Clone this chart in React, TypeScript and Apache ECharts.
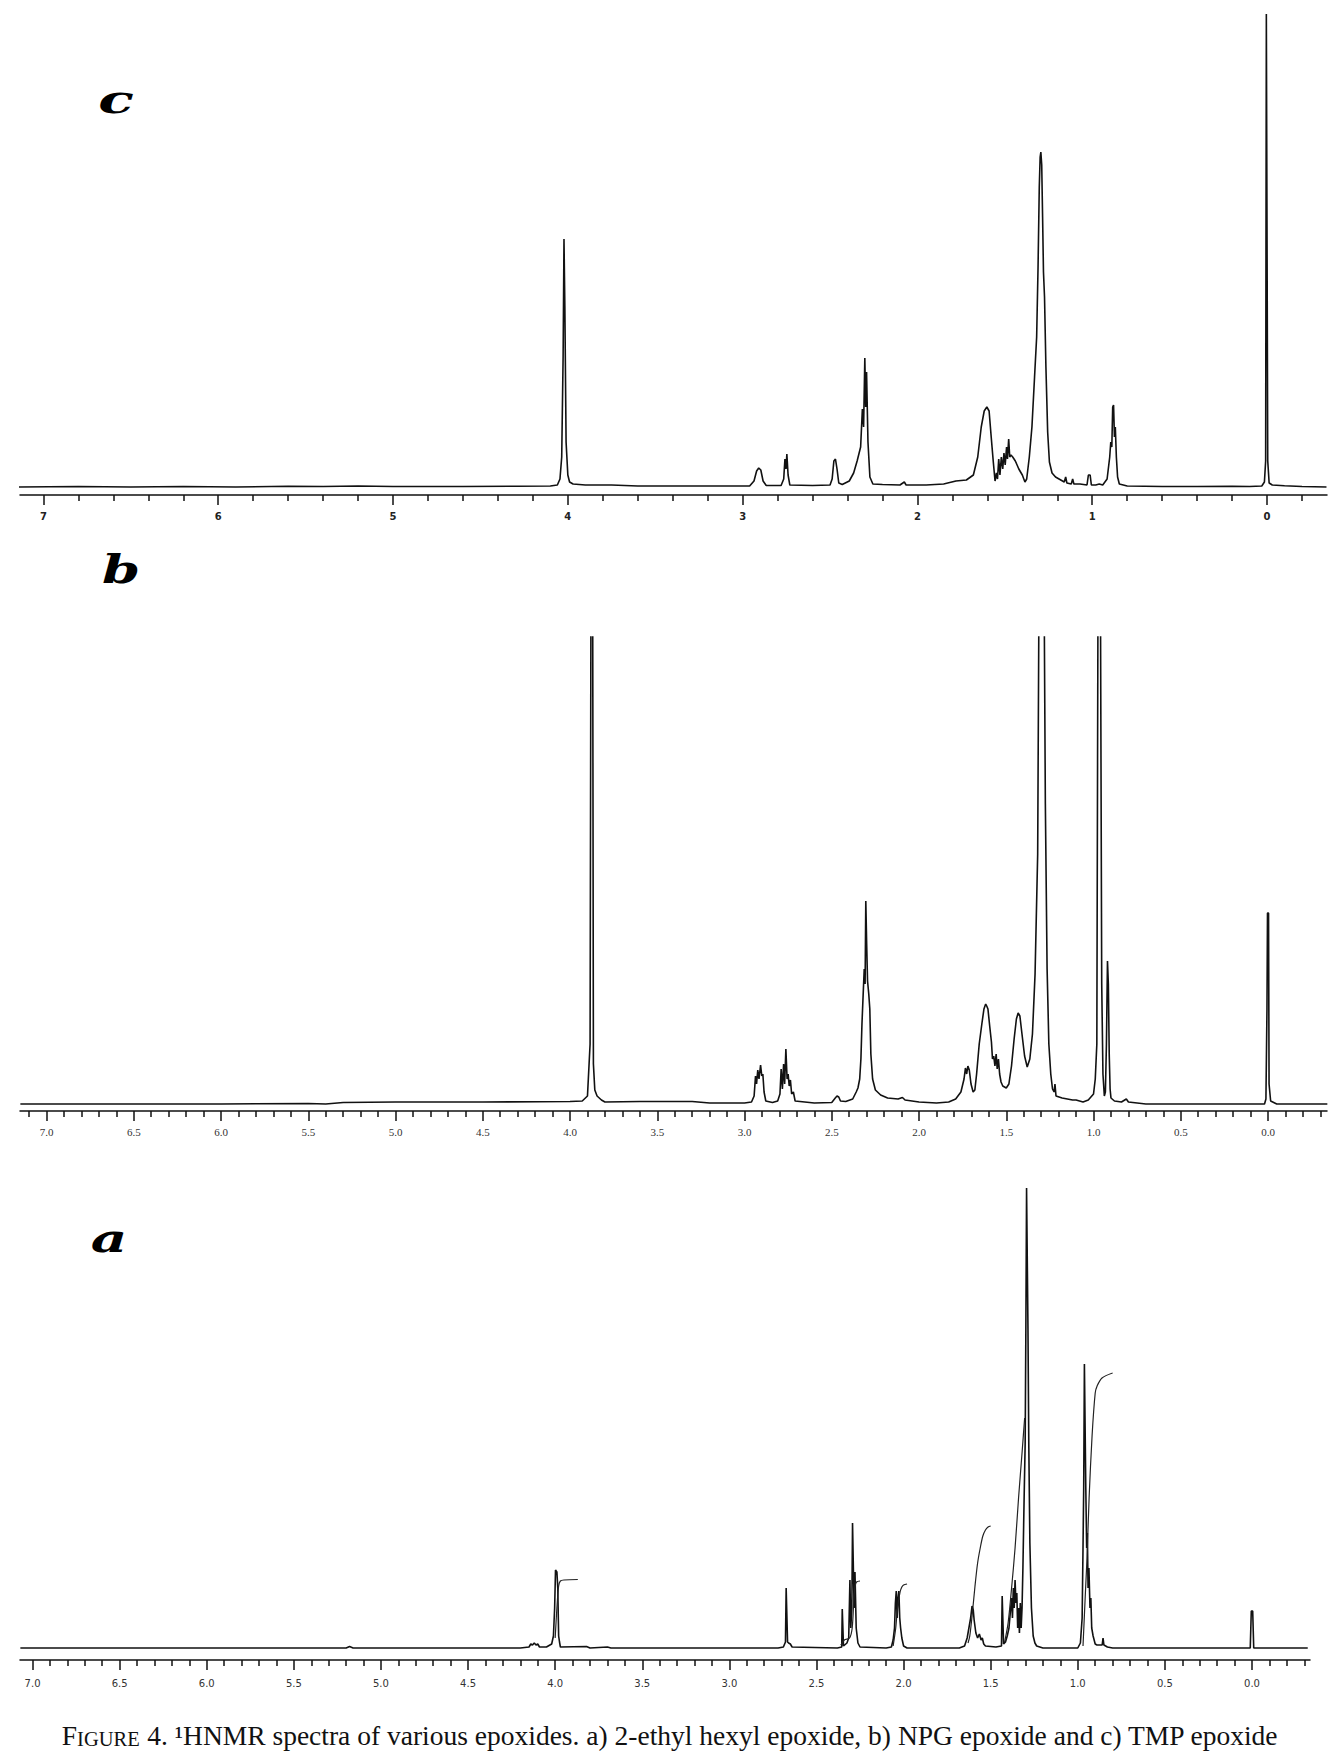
import React, { useEffect, useRef } from "react";
import * as echarts from "echarts";

// ---------- Data: [chemical shift (ppm), signal height] ----------
// c) TMP epoxide
const SPECTRUM_C: [number, number][] = [
  [7.14, 0], [6.8, 0.5], [6.5, 0], [6.2, 0.5], [5.9, 0], [5.6, 0.8], [5.4, 0.5], [5.2, 1], [5.0, 0.5], [4.6, 0.5],
  [4.3, 0.8], [4.1, 1], [4.06, 2], [4.045, 8], [4.035, 30], [4.027, 130], [4.022, 248], [4.017, 180], [4.01, 45],
  [4.0, 12], [3.99, 5], [3.97, 3], [3.9, 2], [3.75, 2], [3.6, 1], [3.3, 1], [3.0, 1], [2.96, 1], [2.935, 6],
  [2.92, 16], [2.908, 19], [2.896, 17], [2.883, 6], [2.865, 1.5], [2.78, 1.5], [2.765, 8], [2.758, 28], [2.752, 18],
  [2.747, 33], [2.74, 12], [2.73, 2], [2.6, 1.5], [2.5, 2], [2.488, 8], [2.478, 26], [2.469, 28], [2.46, 18],
  [2.45, 4], [2.43, 2.5], [2.39, 6], [2.365, 14], [2.345, 26], [2.325, 40], [2.315, 78], [2.308, 60], [2.301, 129],
  [2.296, 80], [2.291, 115], [2.283, 45], [2.272, 10], [2.255, 3], [2.2, 2.5], [2.1, 2], [2.075, 5], [2.065, 2],
  [1.95, 2], [1.85, 3], [1.78, 6], [1.72, 7], [1.68, 12], [1.655, 30], [1.635, 60], [1.618, 76], [1.603, 80],
  [1.59, 76], [1.578, 50], [1.566, 25], [1.556, 6], [1.548, 14], [1.542, 8], [1.535, 28], [1.528, 12], [1.52, 30],
  [1.512, 18], [1.505, 34], [1.498, 22], [1.49, 40], [1.485, 28], [1.478, 48], [1.472, 30], [1.465, 32],
  [1.455, 30], [1.44, 26], [1.42, 18], [1.4, 12], [1.385, 5], [1.375, 8], [1.36, 30], [1.345, 60], [1.33, 110],
  [1.318, 150], [1.31, 220], [1.303, 300], [1.298, 330], [1.294, 335], [1.289, 322], [1.284, 270], [1.279, 215],
  [1.273, 190], [1.265, 120], [1.255, 55], [1.245, 25], [1.23, 14], [1.21, 10], [1.19, 8], [1.16, 5], [1.152, 10],
  [1.145, 4], [1.12, 3], [1.112, 8], [1.105, 3], [1.07, 3], [1.03, 2], [1.022, 12], [1.012, 12], [1.005, 2],
  [0.98, 2], [0.96, 3], [0.94, 2], [0.915, 8], [0.9, 30], [0.894, 45], [0.888, 40], [0.883, 80], [0.878, 82],
  [0.873, 50], [0.868, 60], [0.862, 30], [0.855, 10], [0.845, 3], [0.8, 1], [0.6, 0.5], [0.4, 0.5], [0.2, 0.8],
  [0.1, 0.5], [0.03, 1], [0.015, 5], [0.008, 26], [0.004, 473], [0.0, 473], [-0.004, 26], [-0.012, 4],
  [-0.03, 2], [-0.1, 1.2], [-0.2, 0.5], [-0.34, 0],
];

// b) NPG epoxide (tallest lines run off the top of the frame)
const SPECTRUM_B: [number, number][] = [
  [7.15, 0], [6.5, 0], [6.0, 0], [5.5, 0.5], [5.4, 0], [5.3, 1.5], [5.0, 2], [4.5, 2], [4.0, 2.5], [3.93, 3],
  [3.9, 8], [3.885, 60], [3.879, 600], [3.871, 600], [3.866, 40], [3.858, 14], [3.845, 8], [3.82, 4], [3.8, 2],
  [3.6, 2.5], [3.3, 2.5], [3.2, 1], [3.0, 1], [2.96, 2], [2.945, 8], [2.937, 28], [2.931, 20], [2.924, 34],
  [2.917, 25], [2.908, 39], [2.901, 28], [2.895, 30], [2.888, 12], [2.878, 3], [2.84, 1.5], [2.81, 3], [2.797, 10],
  [2.79, 35], [2.783, 15], [2.776, 40], [2.77, 20], [2.763, 55], [2.756, 25], [2.75, 30], [2.744, 18],
  [2.737, 24], [2.73, 10], [2.72, 12], [2.71, 3], [2.6, 1], [2.5, 1.5], [2.48, 6], [2.47, 8], [2.46, 7],
  [2.45, 3], [2.42, 2.5], [2.38, 5], [2.36, 12], [2.35, 16], [2.34, 25], [2.333, 45], [2.327, 80], [2.32, 110],
  [2.314, 135], [2.309, 120], [2.305, 203], [2.3, 160], [2.295, 123], [2.288, 110], [2.282, 95], [2.276, 50],
  [2.266, 25], [2.25, 14], [2.22, 9], [2.18, 6], [2.12, 5], [2.095, 6.5], [2.08, 4], [2.04, 3], [2.0, 2],
  [1.9, 1], [1.83, 2], [1.79, 5], [1.76, 12], [1.742, 25], [1.734, 36], [1.727, 30], [1.72, 38], [1.712, 34],
  [1.702, 20], [1.69, 12], [1.68, 14], [1.67, 30], [1.655, 60], [1.64, 80], [1.628, 95], [1.618, 100],
  [1.612, 98], [1.605, 95], [1.595, 78], [1.585, 62], [1.579, 45], [1.572, 48], [1.565, 38], [1.558, 50],
  [1.552, 35], [1.545, 45], [1.538, 30], [1.53, 22], [1.52, 18], [1.5, 16], [1.485, 20], [1.47, 38],
  [1.455, 65], [1.442, 85], [1.432, 91], [1.422, 88], [1.41, 70], [1.395, 48], [1.38, 37], [1.365, 45],
  [1.35, 70], [1.335, 130], [1.32, 250], [1.31, 600], [1.297, 600], [1.286, 600], [1.276, 300], [1.266, 135],
  [1.256, 60], [1.245, 30], [1.235, 15], [1.226, 12], [1.221, 20], [1.215, 8], [1.18, 6], [1.12, 4], [1.1, 4],
  [1.06, 2], [1.03, 4], [1.0, 10], [0.99, 25], [0.981, 60], [0.973, 600], [0.962, 600], [0.953, 120],
  [0.946, 30], [0.938, 8], [0.932, 12], [0.926, 60], [0.92, 143], [0.915, 120], [0.91, 50], [0.905, 15],
  [0.9, 6], [0.88, 3], [0.84, 2], [0.812, 5], [0.8, 2], [0.7, 0], [0.5, 0], [0.1, 0], [0.02, 0], [0.012, 5],
  [0.006, 95], [0.003, 191], [-0.003, 191], [-0.006, 20], [-0.015, 3], [-0.05, 0], [-0.34, 0],
];

// a) 2-ethyl hexyl epoxide
const SPECTRUM_A: [number, number][] = [
  [7.07, 0], [5.2, 0], [5.18, 1.5], [5.16, 0], [4.2, 0], [4.15, 1], [4.14, 4], [4.13, 3], [4.12, 5], [4.11, 3],
  [4.1, 4], [4.09, 1], [4.05, 1], [4.02, 4], [4.01, 12], [4.003, 40], [3.998, 78], [3.99, 76], [3.985, 60],
  [3.98, 12], [3.975, 6], [3.97, 1], [3.82, 1.5], [3.8, 0], [3.7, 1], [3.68, 0], [2.72, 0], [2.69, 1],
  [2.678, 6], [2.674, 60], [2.67, 60], [2.666, 6], [2.66, 5], [2.65, 4], [2.64, 1], [2.38, 0], [2.355, 1],
  [2.352, 39], [2.348, 39], [2.345, 2], [2.325, 5], [2.315, 10], [2.308, 68], [2.303, 20], [2.297, 40],
  [2.293, 125], [2.289, 125], [2.284, 40], [2.279, 76], [2.272, 20], [2.262, 5], [2.25, 1], [2.1, 0],
  [2.07, 1], [2.06, 8], [2.052, 20], [2.047, 45], [2.042, 57], [2.037, 30], [2.032, 50], [2.027, 57],
  [2.022, 30], [2.017, 20], [2.01, 10], [2.0, 2], [1.98, 0], [1.68, 0], [1.65, 2], [1.635, 10], [1.625, 20],
  [1.615, 30], [1.607, 42], [1.6, 38], [1.595, 28], [1.585, 15], [1.575, 10], [1.565, 14], [1.555, 8],
  [1.548, 10], [1.54, 4], [1.53, 2], [1.47, 1], [1.438, 2], [1.434, 52], [1.43, 52], [1.426, 4], [1.415, 6],
  [1.405, 12], [1.395, 20], [1.385, 40], [1.38, 50], [1.375, 30], [1.37, 60], [1.365, 40], [1.36, 68],
  [1.355, 45], [1.35, 55], [1.345, 20], [1.34, 40], [1.335, 15], [1.33, 45], [1.325, 20], [1.32, 40],
  [1.315, 80], [1.308, 150], [1.302, 205], [1.298, 320], [1.294, 460], [1.29, 460], [1.286, 320],
  [1.281, 200], [1.275, 105], [1.266, 40], [1.256, 12], [1.246, 5], [1.236, 2], [1.2, 0], [1.0, 0],
  [0.985, 5], [0.975, 30], [0.97, 100], [0.966, 160], [0.962, 284], [0.958, 284], [0.954, 160],
  [0.949, 100], [0.945, 115], [0.941, 60], [0.936, 80], [0.93, 40], [0.925, 50], [0.92, 20], [0.912, 12],
  [0.9, 4], [0.89, 3], [0.86, 3], [0.855, 10], [0.85, 3], [0.83, 1], [0.8, 0], [0.1, 0], [0.01, 0],
  [0.004, 37], [-0.004, 37], [-0.01, 0], [-0.32, 0],
];

// a) integral traces
const INTEGRALS_A: [number, number][][] = [
  [[4.0, 10], [3.99, 40], [3.98, 62], [3.97, 67], [3.95, 68], [3.87, 68.5]],
  [[2.36, 3], [2.34, 8], [2.31, 10], [2.295, 20], [2.285, 50], [2.278, 62], [2.27, 66], [2.25, 67]],
  [[2.06, 2], [2.045, 20], [2.035, 40], [2.02, 56], [2.01, 61], [2.0, 63], [1.98, 64]],
  [[1.63, 5], [1.62, 12], [1.605, 35], [1.59, 62], [1.575, 85], [1.56, 100], [1.545, 112], [1.53, 118], [1.515, 121], [1.5, 122]],
  [[1.42, 6], [1.4, 25], [1.38, 60], [1.36, 100], [1.34, 150], [1.32, 195], [1.305, 230]],
  [[0.97, 2], [0.955, 60], [0.947, 90], [0.935, 150], [0.918, 212], [0.9, 255], [0.889, 262], [0.861, 270], [0.8, 275]],
];

// ---------- Axis ticks and labels ----------
const MAJOR_C = [0, 1, 2, 3, 4, 5, 6, 7];
const MAJOR_AB = [0, 0.5, 1, 1.5, 2, 2.5, 3, 3.5, 4, 4.5, 5, 5.5, 6, 6.5, 7];
const PANEL_LETTERS = ["c", "b", "a"];
const CAPTION_LEAD = "F";
const CAPTION_SMALLCAPS = "IGURE";
const CAPTION_REST =
  " 4. \u00B9HNMR spectra of various epoxides. a) 2-ethyl hexyl epoxide, b) NPG epoxide and c) TMP epoxide";

function minorTicks(from: number, to: number, step: number, major: number): number[] {
  const out: number[] = [];
  const n = Math.round((to - from) / step);
  for (let i = 0; i <= n; i++) {
    const v = Math.round((from + i * step) * 1000) / 1000;
    const r = v / major;
    if (Math.abs(r - Math.round(r)) > 1e-6) out.push(v);
  }
  return out;
}
const MINOR_C = minorTicks(-0.2, 7.0, 0.2, 1);
const MINOR_AB = minorTicks(-0.3, 7.1, 0.1, 0.5);

export default function App() {
  const ref = useRef<HTMLDivElement>(null);

  useEffect(() => {
    if (!ref.current) return;
    const chart = echarts.init(ref.current, undefined, { renderer: "svg" });

    const panels = [
      { left: 20, width: 1307, top: 13, height: 482, xmin: -0.343, xmax: 7.134, ymin: -8, ymax: 474,
        major: MAJOR_C, minor: MINOR_C, data: SPECTRUM_C,
        label: { fontSize: 10, fontWeight: "bold", fontFamily: "DejaVu Sans", color: "#222", margin: 16 },
        fmt: (v: number) => String(Math.round(v)) },
      { left: 20, width: 1307, top: 637, height: 474, xmin: -0.338, xmax: 7.152, ymin: -7, ymax: 467,
        major: MAJOR_AB, minor: MINOR_AB, data: SPECTRUM_B,
        label: { fontSize: 11, fontWeight: "normal", fontFamily: "Liberation Serif", color: "#333", margin: 15 },
        fmt: (v: number) => v.toFixed(1) },
      { left: 20, width: 1290, top: 1188, height: 472, xmin: -0.333, xmax: 7.072, ymin: -12, ymax: 460,
        major: MAJOR_AB, minor: MINOR_AB, data: SPECTRUM_A,
        label: { fontSize: 10, fontWeight: "normal", fontFamily: "DejaVu Sans", color: "#333", margin: 18 },
        fmt: (v: number) => v.toFixed(1) },
    ];

    const grid: any[] = [];
    const xAxis: any[] = [];
    const yAxis: any[] = [];
    const series: any[] = [];

    panels.forEach((p, i) => {
      grid.push({ left: p.left, width: p.width, top: p.top, height: p.height, containLabel: false });
      xAxis.push({
        type: "value", gridIndex: i, position: "bottom", min: p.xmin, max: p.xmax, inverse: true,
        axisLine: { show: true, onZero: false, lineStyle: { color: "#111", width: 1.5 } },
        axisTick: { show: true, length: 10, customValues: p.major, lineStyle: { color: "#111", width: 1.5 } },
        axisLabel: { show: true, customValues: p.major, formatter: p.fmt, ...p.label },
        splitLine: { show: false },
      });
      xAxis.push({
        type: "value", gridIndex: i, position: "bottom", min: p.xmin, max: p.xmax, inverse: true,
        axisLine: { show: false, onZero: false },
        axisTick: { show: true, length: 6, customValues: p.minor, lineStyle: { color: "#111", width: 1.5 } },
        axisLabel: { show: false },
        splitLine: { show: false },
      });
      yAxis.push({ type: "value", gridIndex: i, min: p.ymin, max: p.ymax, show: false, splitLine: { show: false } });
      series.push({
        type: "line", xAxisIndex: i * 2, yAxisIndex: i, data: p.data, symbol: "none", showSymbol: false,
        clip: true, silent: true, lineStyle: { color: "#111", width: 1.6 },
      });
    });

    INTEGRALS_A.forEach((d) => {
      series.push({
        type: "line", xAxisIndex: 4, yAxisIndex: 2, data: d, symbol: "none", showSymbol: false, smooth: 0.3,
        clip: true, silent: true, lineStyle: { color: "#222", width: 1.2 },
      });
    });

    const letterPos = [
      [116, 99, 1.5],
      [121, 569, 1.4],
      [109, 1238, 1.45],
    ];
    const graphic: any[] = PANEL_LETTERS.map((t, i) => ({
      type: "text",
      x: letterPos[i][0],
      y: letterPos[i][1],
      scaleX: letterPos[i][2],
      style: {
        text: t, fill: "#000", fontSize: 39, fontWeight: "bold", fontStyle: "italic",
        fontFamily: "DejaVu Serif", align: "center", verticalAlign: "middle",
      },
    }));
    graphic.push({
      type: "text",
      x: 670,
      y: 1735,
      style: {
        text: `{l|${CAPTION_LEAD}}{s|${CAPTION_SMALLCAPS}}{l|${CAPTION_REST}}`,
        align: "center",
        verticalAlign: "middle",
        rich: {
          l: { fontSize: 27.5, fontFamily: "Liberation Serif", fill: "#111", verticalAlign: "bottom" },
          s: { fontSize: 20.5, fontFamily: "Liberation Serif", fill: "#111", verticalAlign: "bottom" },
        },
      },
    });

    chart.setOption({
      animation: false,
      backgroundColor: "#fff",
      grid, xAxis, yAxis, series, graphic,
    });

    return () => chart.dispose();
  }, []);

  return (
    <div
      ref={ref}
      style={{ position: "absolute", left: 0, top: 0, width: 1337, height: 1763, background: "#fff" }}
    />
  );
}
